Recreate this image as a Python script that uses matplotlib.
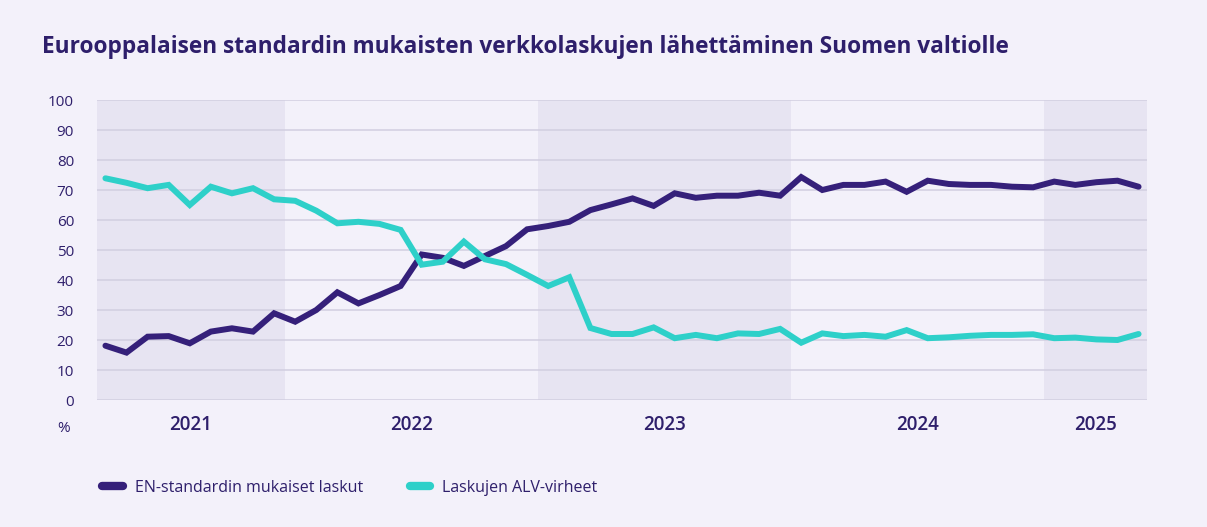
import numpy as np
import matplotlib
matplotlib.use("Agg")
import matplotlib.pyplot as plt
from matplotlib.lines import Line2D

plt.rcParams["font.family"] = ["Open Sans", "DejaVu Sans"]

# Kuukausittaiset arvot, huhtikuu 2021 - toukokuu 2025
years = ["2021", "2022", "2023", "2024", "2025"]
months_per_year = [9, 12, 12, 12, 5]

en_standard = [18.1, 15.8, 21.1, 21.3, 18.9, 22.8, 23.9, 22.8, 28.9,
               26.1, 30.0, 35.9, 32.2, 35.0, 38.0, 48.5, 47.4, 44.7, 48.0, 51.3, 56.9,
               58.0, 59.4, 63.3, 65.2, 67.2, 64.7, 68.9, 67.4, 68.1, 68.1, 69.1, 68.1,
               74.3, 70.0, 71.7, 71.7, 72.8, 69.4, 73.1, 72.0, 71.7, 71.7, 71.1, 70.9,
               72.8, 71.7, 72.6, 73.1, 71.1]
alv_errors = [73.9, 72.4, 70.6, 71.7, 65.0, 71.1, 68.9, 70.6, 66.9,
              66.4, 63.1, 58.9, 59.4, 58.7, 56.7, 45.1, 46.1, 52.8, 46.9, 45.3, 41.7,
              38.0, 40.9, 24.0, 22.0, 22.0, 24.2, 20.6, 21.7, 20.6, 22.2, 22.0, 23.7,
              19.1, 22.2, 21.3, 21.7, 21.1, 23.3, 20.6, 20.9, 21.4, 21.7, 21.7, 21.9,
              20.6, 20.8, 20.2, 20.0, 22.0]
series_labels = ["EN-standardin mukaiset laskut", "Laskujen ALV-virheet"]

BG = "#f3f1fa"
SHADE = "#e7e4f2"
GRID = "#d2cee0"
TEXT = "#2e1f6b"
PURPLE = "#35207a"
TEAL = "#2ed0c9"

fig = plt.figure(figsize=(12.07, 5.27), dpi=100, facecolor=BG)
ax = fig.add_axes([97 / 1207, 1 - 400 / 527, 1050 / 1207, 300 / 527])
ax.set_facecolor(BG)

x = np.arange(len(en_standard))
x_left, x_right = -0.4, len(x) - 0.6

# vuosikaistat
edges = np.concatenate([[0], np.cumsum(months_per_year)]) - 0.5
edges[0] = x_left
edges[-1] = x_right
for i, yr in enumerate(years):
    if i % 2 == 0:
        ax.axvspan(edges[i], edges[i + 1], color=SHADE, lw=0, zorder=0)
    ax.text((edges[i] + edges[i + 1]) / 2, -8.3, yr, ha="center", va="center",
            fontsize=13.5, fontweight="semibold", color=TEXT)

for yv in range(0, 101, 10):
    ax.axhline(yv, color=GRID, lw=1.1, zorder=1)

ax.plot(x, en_standard, color=PURPLE, lw=4.3, solid_joinstyle="miter",
        solid_capstyle="round", zorder=3)
ax.plot(x, alv_errors, color=TEAL, lw=4.3, solid_joinstyle="miter",
        solid_capstyle="round", zorder=3)

ax.set_xlim(x_left, x_right)
ax.set_ylim(0, 100)
ax.set_yticks(range(0, 101, 10))
ax.set_yticklabels([str(v) for v in range(0, 101, 10)], fontsize=11, color=TEXT)
ax.tick_params(axis="y", length=0, pad=16.5)
ax.set_xticks([])
for s in ax.spines.values():
    s.set_visible(False)

fig.text(64 / 1207, 1 - 428 / 527, "%", ha="center", va="center",
         fontsize=11, color=TEXT)

fig.text(42 / 1207, 1 - 47 / 527, "Eurooppalaisen standardin mukaisten verkkolaskujen lähettäminen Suomen valtiolle",
         ha="left", va="center", fontsize=16.3, fontweight="bold", color=TEXT)

handles = [Line2D([], [], color=PURPLE, lw=6, solid_capstyle="round"),
           Line2D([], [], color=TEAL, lw=6, solid_capstyle="round")]
leg = fig.legend(handles, series_labels, loc="center left", ncol=2,
                 bbox_to_anchor=(88 / 1207, 1 - 488 / 527), frameon=False,
                 fontsize=11.5, handlelength=1.3, handletextpad=0.75,
                 columnspacing=2.9)
for t in leg.get_texts():
    t.set_color(TEXT)

fig.savefig("out.png", dpi=100, facecolor=BG)
